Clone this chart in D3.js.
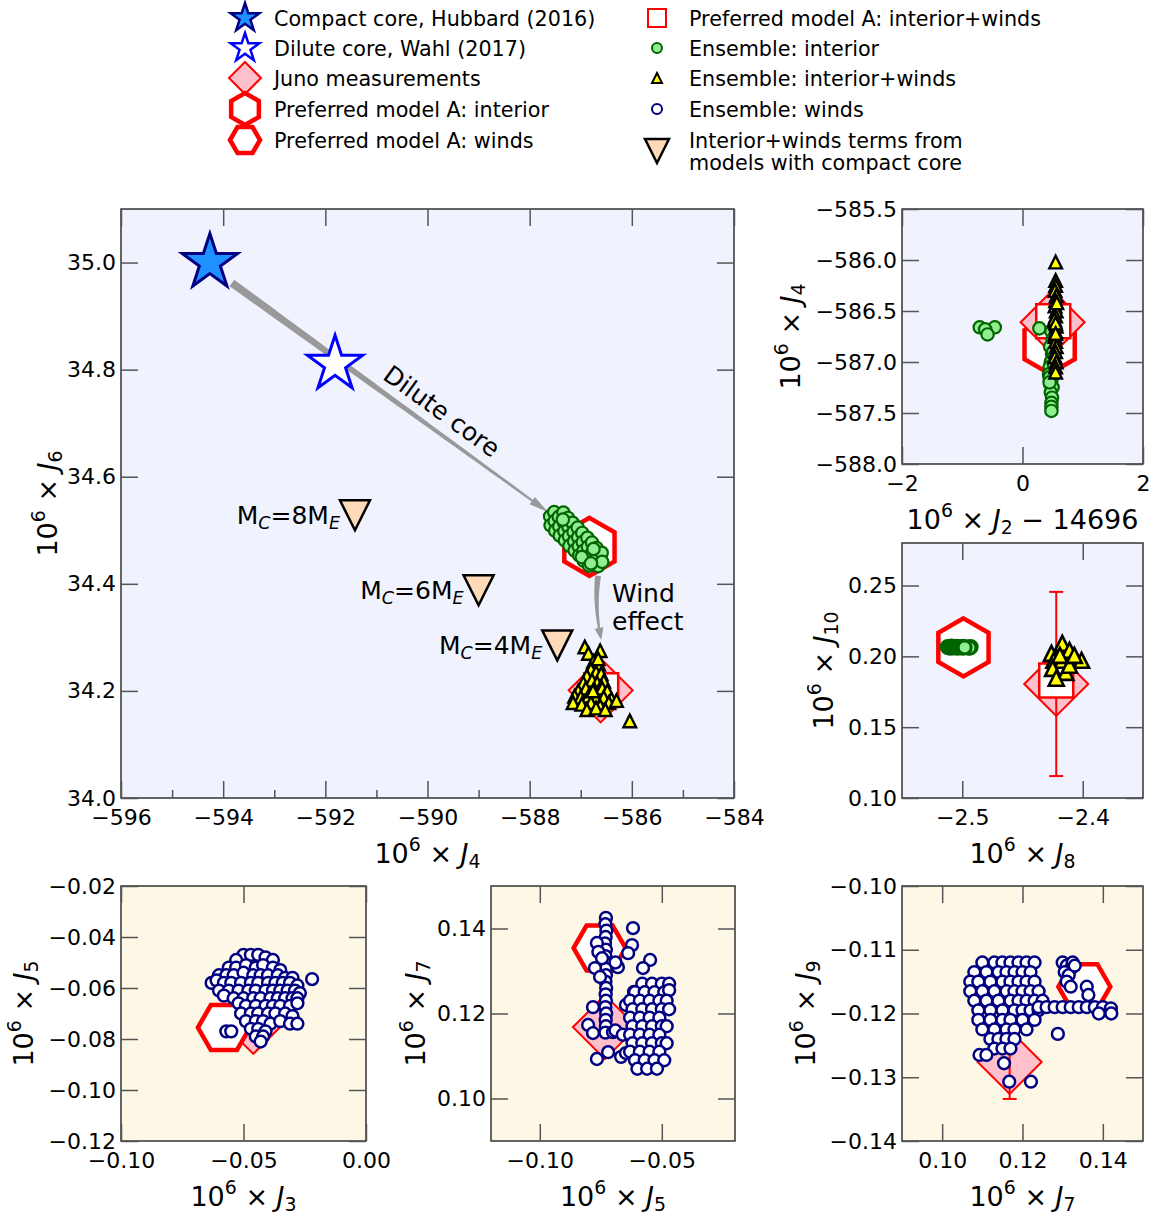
<!DOCTYPE html>
<html><head><meta charset="utf-8">
<script src="https://cdn.jsdelivr.net/npm/d3@7"></script>
<style>body{margin:0;background:#fff} text{font-family:"DejaVu Sans",sans-serif;fill:#000}</style>
</head><body>
<svg id="c" width="1156" height="1215"></svg>
<script>
// ================= DATA =================
const compactCore = [-594.26, 35.0];          // (J4, J6)
const diluteCore  = [-591.81, 34.81];
const compactCoreModels = [                   // interior+winds terms, compact core
  {mc:"8", j4:-591.42, j6:34.528},
  {mc:"6", j4:-589.00, j6:34.388},
  {mc:"4", j4:-587.46, j6:34.285}
];
// Juno measurements
const junoJ2p = 0.50, junoJ3 = -0.046, junoJ4 = -586.61, junoJ5 = -0.0733, junoJ6 = 34.201,
      junoJ7 = 0.1168, junoJ8 = -2.422, junoJ9 = -0.1276, junoJ10 = 0.1805;
const junoErrJ9 = 0.0058, junoErrJ10 = 0.065;
// Preferred model A
const prefInterior = {j2p:0.45, j4:-586.83, j6:34.469, j8:-2.499, j10:0.2063};
const prefWinds    = {j3:-0.058, j5:-0.0755, j7:0.1354, j9:-0.1158};
const prefTotal    = {j2p:0.51, j4:-586.60, j6:34.201, j8:-2.422, j10:0.183};

// Ensemble interior (J4, J6)
const ensInteriorJ4J6 = [[-587.60,34.526],[-587.52,34.534],
[-587.59,34.509],[-587.51,34.517],[-587.43,34.525],[-587.34,34.533],
[-587.50,34.499],[-587.42,34.507],[-587.33,34.515],[-587.25,34.523],
[-587.41,34.490],[-587.32,34.498],[-587.24,34.506],[-587.16,34.514],
[-587.31,34.481],[-587.23,34.489],[-587.14,34.497],[-587.06,34.505],
[-587.22,34.471],[-587.13,34.479],[-587.05,34.487],[-586.97,34.495],
[-587.12,34.462],[-587.04,34.470],[-586.96,34.478],[-586.87,34.486],
[-587.03,34.453],[-586.95,34.461],[-586.86,34.469],[-586.78,34.477],
[-586.94,34.443],[-586.85,34.451],[-586.77,34.459],[-586.69,34.467],
[-586.84,34.434],[-586.76,34.442],[-586.67,34.450],[-586.59,34.458],
[-586.66,34.433],[-586.58,34.441],[-586.98,34.450],[-586.75,34.465],[-587.35,34.520],[-586.80,34.438]];
// Ensemble interior+winds (J4, J6)
const ensTotalJ4J6 = [[-586.92,34.282],[-586.85,34.270],[-586.62,34.275],[-586.75,34.255],[-586.65,34.250],[-586.80,34.240],[-586.70,34.235],[-586.88,34.228],[-586.60,34.232],[-586.95,34.215],[-586.78,34.220],[-586.68,34.215],[-586.55,34.218],[-587.05,34.200],[-586.90,34.205],[-586.72,34.200],[-586.58,34.205],[-586.48,34.200],[-587.12,34.190],[-587.00,34.188],[-586.85,34.190],[-586.70,34.185],[-586.55,34.188],[-586.40,34.185],[-587.15,34.178],[-586.98,34.175],[-586.80,34.178],[-586.62,34.172],[-586.45,34.178],[-586.30,34.182],[-586.88,34.165],[-586.70,34.168],[-586.52,34.165],[-586.76,34.200],[-586.66,34.260],[-586.04,34.144]];
// Ensemble interior (J2-14696, J4)
const ensInteriorJ2J4 = [[-0.71,-586.66],[-0.46,-586.66],[-0.62,-586.68],[-0.58,-586.73],[0.28,-586.67],[0.48,-586.70],[0.50,-586.78],[0.46,-586.85],[0.49,-586.92],[0.47,-587.00],[0.45,-587.05],[0.50,-587.10],[0.44,-587.12],[0.48,-587.18],[0.46,-587.22],[0.50,-587.25],[0.47,-587.30],[0.49,-587.35],[0.48,-587.40],[0.48,-587.44],[0.48,-587.48],[0.45,-587.15],[0.52,-587.02],[0.51,-586.90],[0.45,-587.20]];
// Ensemble interior+winds (J2-14696, J4)
const ensTotalJ2J4 = [[0.55,-586.02],[0.55,-586.20],[0.55,-586.25],[0.54,-586.30],[0.56,-586.35],[0.55,-586.40],[0.54,-586.45],[0.56,-586.50],[0.55,-586.55],[0.54,-586.60],[0.56,-586.65],[0.55,-586.70],[0.54,-586.75],[0.55,-586.80],[0.56,-586.85],[0.55,-586.90],[0.54,-586.95],[0.56,-587.00],[0.55,-587.05],[0.55,-587.10],[0.53,-586.58],[0.57,-586.42],[0.55,-586.62],[0.55,-586.72]];
// Ensemble interior (J8, J10)
const ensInteriorJ8J10 = [[-2.512,0.2066],[-2.510,0.2060],[-2.509,0.2069],[-2.507,0.2063],[-2.505,0.2067],[-2.504,0.2060],[-2.502,0.2066],[-2.500,0.2061],[-2.495,0.2063],[-2.493,0.2066],[-2.494,0.2060],[-2.499,0.2067],[-2.498,0.2063]];
// Ensemble interior+winds (J8, J10)
const ensTotalJ8J10 = [[-2.426,0.2021],[-2.417,0.2092],[-2.411,0.2042],[-2.401,0.1972],[-2.424,0.1972],[-2.417,0.1972],[-2.425,0.1915],[-2.414,0.1887],[-2.411,0.1937],[-2.422,0.1845],[-2.419,0.2007],[-2.407,0.2007]];
// Ensemble winds (J3, J5)
const ensWindsJ3J5 = [[-0.050,-0.047],[-0.047,-0.047],[-0.044,-0.047],[-0.041,-0.048],[-0.038,-0.049],[-0.053,-0.049],
[-0.056,-0.052],[-0.053,-0.052],[-0.049,-0.051],[-0.045,-0.052],[-0.042,-0.051],[-0.038,-0.052],[-0.035,-0.053],
[-0.060,-0.055],[-0.057,-0.055],[-0.054,-0.055],[-0.050,-0.054],[-0.046,-0.055],[-0.043,-0.055],[-0.040,-0.055],[-0.036,-0.055],[-0.033,-0.056],[-0.030,-0.056],
[-0.063,-0.058],[-0.061,-0.057],[-0.058,-0.058],[-0.055,-0.058],[-0.051,-0.058],[-0.047,-0.058],[-0.044,-0.058],[-0.040,-0.058],[-0.037,-0.058],[-0.034,-0.058],[-0.031,-0.058],[-0.028,-0.059],
[-0.060,-0.061],[-0.056,-0.061],[-0.052,-0.061],[-0.048,-0.061],[-0.045,-0.061],[-0.041,-0.061],[-0.038,-0.061],[-0.035,-0.061],[-0.032,-0.061],[-0.029,-0.061],[-0.027,-0.062],
[-0.058,-0.063],[-0.054,-0.064],[-0.050,-0.064],[-0.046,-0.064],[-0.043,-0.064],[-0.039,-0.064],[-0.036,-0.064],[-0.033,-0.064],[-0.030,-0.064],[-0.028,-0.064],
[-0.052,-0.066],[-0.049,-0.067],[-0.045,-0.067],[-0.041,-0.067],[-0.038,-0.067],[-0.035,-0.067],[-0.031,-0.067],[-0.028,-0.066],
[-0.051,-0.070],[-0.047,-0.070],[-0.044,-0.070],[-0.040,-0.070],[-0.037,-0.070],[-0.033,-0.070],[-0.030,-0.071],
[-0.049,-0.073],[-0.045,-0.073],[-0.042,-0.073],[-0.039,-0.074],[-0.035,-0.073],[-0.031,-0.074],[-0.028,-0.074],
[-0.047,-0.076],[-0.044,-0.076],[-0.041,-0.077],[-0.045,-0.079],[-0.042,-0.079],[-0.043,-0.081],
[-0.057,-0.077],[-0.055,-0.077],[-0.022,-0.0565]];
// Ensemble winds (J5, J7)
const ensWindsJ5J7 = [[-0.0729,0.1425],[-0.0731,0.1410],[-0.0727,0.1395],[-0.0730,0.1380],[-0.0733,0.1365],[-0.0729,0.1350],[-0.0731,0.1335],[-0.0728,0.1320],[-0.0730,0.1305],[-0.0729,0.1290],[-0.0731,0.1275],[-0.0728,0.1260],[-0.0730,0.1245],[-0.0729,0.1230],[-0.0731,0.1215],[-0.0728,0.1200],[-0.0730,0.1185],[-0.0729,0.1170],[-0.0731,0.1155],
[-0.0766,0.1366],[-0.0760,0.1345],[-0.0774,0.1307],[-0.0753,0.1286],[-0.0745,0.1330],
[-0.0618,0.1401],[-0.0622,0.1361],[-0.0638,0.1342],[-0.0548,0.1326],[-0.0577,0.1307],[-0.0680,0.1309],[-0.0690,0.1320],[-0.0782,0.1215],[-0.0802,0.1173],[-0.0782,0.1154],[-0.0766,0.1093],[-0.0720,0.1109],[-0.0700,0.1156],[-0.0667,0.1098],[-0.0647,0.1107],[-0.0614,0.1251],[-0.0647,0.1220],[-0.0690,0.1160],[-0.0660,0.1150],
[-0.058,0.127],[-0.054,0.127],[-0.050,0.127],[-0.047,0.127],
[-0.061,0.125],[-0.057,0.125],[-0.053,0.125],[-0.049,0.125],[-0.047,0.1255],
[-0.063,0.123],[-0.059,0.123],[-0.055,0.123],[-0.051,0.123],[-0.048,0.123],
[-0.062,0.121],[-0.058,0.121],[-0.054,0.121],[-0.050,0.121],[-0.047,0.121],
[-0.063,0.119],[-0.059,0.119],[-0.055,0.119],[-0.051,0.119],
[-0.062,0.117],[-0.058,0.117],[-0.054,0.117],[-0.050,0.117],[-0.048,0.117],
[-0.063,0.115],[-0.059,0.115],[-0.055,0.115],[-0.051,0.115],
[-0.062,0.113],[-0.058,0.113],[-0.054,0.113],[-0.050,0.113],[-0.048,0.113],
[-0.063,0.111],[-0.059,0.111],[-0.055,0.111],[-0.051,0.111],
[-0.061,0.109],[-0.057,0.109],[-0.053,0.109],[-0.049,0.109],
[-0.060,0.107],[-0.056,0.107],[-0.052,0.107]];
// Ensemble winds (J7, J9)
const ensWindsJ7J9 = [[0.110,-0.112],[0.113,-0.112],[0.115,-0.112],[0.117,-0.112],[0.119,-0.112],[0.121,-0.112],[0.123,-0.112],
[0.108,-0.1135],[0.111,-0.1135],[0.114,-0.1135],[0.116,-0.1135],[0.118,-0.1135],[0.120,-0.1135],[0.122,-0.1135],
[0.107,-0.115],[0.109,-0.115],[0.112,-0.115],[0.115,-0.115],[0.117,-0.115],[0.119,-0.115],[0.121,-0.115],[0.123,-0.115],
[0.107,-0.1165],[0.110,-0.1165],[0.113,-0.1165],[0.116,-0.1165],[0.118,-0.1165],[0.120,-0.1165],[0.122,-0.1165],[0.124,-0.1165],
[0.108,-0.118],[0.111,-0.118],[0.114,-0.118],[0.117,-0.118],[0.119,-0.118],[0.121,-0.118],[0.123,-0.118],[0.125,-0.118],
[0.109,-0.1195],[0.112,-0.1195],[0.115,-0.1195],[0.118,-0.1195],[0.120,-0.1195],[0.122,-0.1195],[0.124,-0.1195],
[0.109,-0.121],[0.112,-0.121],[0.115,-0.121],[0.117,-0.121],[0.120,-0.121],[0.123,-0.121],
[0.110,-0.1225],[0.113,-0.1225],[0.116,-0.1225],[0.118,-0.1225],[0.121,-0.1225],
[0.112,-0.124],[0.114,-0.124],[0.116,-0.124],[0.118,-0.124],
[0.113,-0.1255],[0.115,-0.1255],[0.117,-0.1255],
[0.124,-0.119],[0.126,-0.119],[0.128,-0.119],[0.130,-0.119],[0.132,-0.119],[0.134,-0.119],[0.136,-0.119],[0.138,-0.119],[0.140,-0.119],[0.142,-0.1192],[0.1421,-0.120],[0.139,-0.120],
[0.1300,-0.1120],[0.1310,-0.1125],[0.1320,-0.1130],[0.1305,-0.1135],[0.1325,-0.1120],[0.1315,-0.1140],[0.1310,-0.1150],[0.1320,-0.1158],[0.1360,-0.1158],[0.1364,-0.1171],[0.1330,-0.1125],
[0.1093,-0.1265],[0.1110,-0.1265],[0.1154,-0.1278],[0.1167,-0.1307],[0.1221,-0.1307],[0.1288,-0.1232]];

// tick values
const mainXTicks = [-596,-594,-592,-590,-588,-586,-584];
const mainXMinor = [-595,-593,-591,-589,-587,-585];
const mainYTicks = [34.0,34.2,34.4,34.6,34.8,35.0];
const trXTicks = [-2,0,2];
const trYTicks = [-588.0,-587.5,-587.0,-586.5,-586.0,-585.5];
const mrXTicks = [-2.5,-2.4];
const mrYTicks = [0.10,0.15,0.20,0.25];
const blXTicks = [-0.10,-0.05,0.00];
const blYTicks = [-0.12,-0.10,-0.08,-0.06,-0.04,-0.02];
const bmXTicks = [-0.10,-0.05];
const bmYTicks = [0.10,0.12,0.14];
const brXTicks = [0.10,0.12,0.14];
const brYTicks = [-0.14,-0.13,-0.12,-0.11,-0.10];

// ================= DRAWING =================
const svg = d3.select("#c");
const BLUEBG = "#f0f3fe", CREAMBG = "#fdf8e5";
const TICKFS = 22, LABFS = 27;

function starPath(R){const p=[];for(let i=0;i<10;i++){const a=-Math.PI/2+i*Math.PI/5;const r=i%2?R*0.381966:R;p.push([r*Math.cos(a),r*Math.sin(a)]);}return "M"+p.map(d=>d.map(v=>v.toFixed(2)).join(",")).join("L")+"Z";}
function hexPath(R,pointy){const p=[];for(let i=0;i<6;i++){const a=(pointy?-90:0)*Math.PI/180+i*Math.PI/3;p.push([R*Math.cos(a),R*Math.sin(a)]);}return "M"+p.map(d=>d.map(v=>v.toFixed(2)).join(",")).join("L")+"Z";}
function diamondPath(h){return `M0,${-h}L${h},0L0,${h}L${-h},0Z`;}
function triPath(h,up){return up?`M0,${-h}L${h},${h}L${-h},${h}Z`:`M0,${h}L${h},${-h}L${-h},${-h}Z`;}
function squarePath(s){return `M${-s/2},${-s/2}h${s}v${s}h${-s}Z`;}

function mark(g,x,y,d,fill,stroke,sw){
  return g.append("path").attr("d",d).attr("transform",`translate(${x},${y})`)
    .attr("fill",fill).attr("stroke",stroke).attr("stroke-width",sw).attr("stroke-linejoin","miter");
}
function mathText(sel,parts,fs){
  let cur=0;
  parts.forEach(([s,type])=>{
    const t=sel.append("tspan").text(s);
    let off=0;
    if(type.includes("sup")){off=-0.44*fs;t.attr("font-size",fs*0.7);}
    if(type.includes("sub")){off=0.2*fs;t.attr("font-size",fs*0.7);}
    if(type.includes("it")) t.attr("font-style","italic");
    t.attr("dy",off-cur); cur=off;
  });
}
const lab = (sub)=>[["10",""],["6","sup"],[" × ",""],["J","it"],[sub,"sub"]];

let clipN=0;
function panel(p){
  const x=d3.scaleLinear().domain(p.xd).range([p.x,p.x+p.w]);
  const y=d3.scaleLinear().domain(p.yd).range([p.y+p.h,p.y]);
  const g=svg.append("g");
  g.append("rect").attr("x",p.x).attr("y",p.y).attr("width",p.w).attr("height",p.h).attr("fill",p.bg);
  const id="clip"+(clipN++);
  svg.append("clipPath").attr("id",id).append("rect").attr("x",p.x).attr("y",p.y).attr("width",p.w).attr("height",p.h);
  const content=g.append("g").attr("clip-path",`url(#${id})`);
  const axes=g.append("g");
  axes.append("rect").attr("x",p.x).attr("y",p.y).attr("width",p.w).attr("height",p.h)
    .attr("fill","none").attr("stroke","#333").attr("stroke-width",1.5);
  const TL=17;
  const styleAxis=(a)=>{a.select(".domain").remove();a.selectAll(".tick line").attr("stroke","#555").attr("stroke-width",1.5);
    a.selectAll(".tick text").attr("font-size",TICKFS).attr("font-family","DejaVu Sans").attr("fill","#000");};
  axes.append("g").attr("transform",`translate(0,${p.y+p.h})`)
    .call(d3.axisBottom(x).tickValues(p.xt).tickFormat(d3.format(p.xf)).tickSizeInner(-TL).tickSizeOuter(0).tickPadding(11)).call(styleAxis);
  axes.append("g").attr("transform",`translate(0,${p.y})`)
    .call(d3.axisTop(x).tickValues(p.xt).tickFormat("").tickSizeInner(-TL).tickSizeOuter(0)).call(styleAxis);
  axes.append("g").attr("transform",`translate(${p.x},0)`)
    .call(d3.axisLeft(y).tickValues(p.yt).tickFormat(d3.format(p.yf)).tickSizeInner(-TL).tickSizeOuter(0).tickPadding(5)).call(styleAxis);
  axes.append("g").attr("transform",`translate(${p.x+p.w},0)`)
    .call(d3.axisRight(y).tickValues(p.yt).tickFormat("").tickSizeInner(-TL).tickSizeOuter(0)).call(styleAxis);
  if(p.xminor){
    axes.append("g").attr("transform",`translate(0,${p.y+p.h})`)
      .call(d3.axisBottom(x).tickValues(p.xminor).tickFormat("").tickSizeInner(-8).tickSizeOuter(0)).call(styleAxis);
  }
  const xl=svg.append("text").attr("x",p.x+p.w/2).attr("y",p.y+p.h+65).attr("text-anchor","middle").attr("font-size",LABFS);
  mathText(xl,p.xlab,LABFS);
  const yl=svg.append("text").attr("transform",`translate(${p.x-p.ylOff},${p.y+p.h/2}) rotate(-90)`).attr("text-anchor","middle").attr("font-size",LABFS);
  mathText(yl,p.ylab,LABFS);
  return {x,y,g:content};
}

function taper(g,pts,w0,w1,headL,headW,color){
  const n=pts.length;
  const L=[0];for(let i=1;i<n;i++)L.push(L[i-1]+Math.hypot(pts[i][0]-pts[i-1][0],pts[i][1]-pts[i-1][1]));
  const tot=L[n-1];
  const left=[],right=[];
  let lastI=0;
  for(let i=0;i<n;i++){
    if(L[i]>tot-headL) break;
    lastI=i;
    const a=pts[Math.max(0,i-1)],b=pts[Math.min(n-1,i+1)];
    let dx=b[0]-a[0],dy=b[1]-a[1];const d=Math.hypot(dx,dy);dx/=d;dy/=d;
    const w=w0+(w1-w0)*L[i]/(tot-headL);
    left.push([pts[i][0]-dy*w/2,pts[i][1]+dx*w/2]);right.push([pts[i][0]+dy*w/2,pts[i][1]-dx*w/2]);
  }
  const base=pts[lastI],tip=pts[n-1];
  let dx=tip[0]-base[0],dy=tip[1]-base[1];const d=Math.hypot(dx,dy);dx/=d;dy/=d;
  const poly=left.concat([[base[0]-dy*headW/2,base[1]+dx*headW/2],tip,[base[0]+dy*headW/2,base[1]-dx*headW/2]]).concat(right.reverse());
  g.append("path").attr("d","M"+poly.map(q=>q.join(",")).join("L")+"Z").attr("fill",color).attr("stroke","none");
}

// ---------- MAIN PANEL ----------
const M = panel({x:121,y:209,w:613,h:589,xd:[-596,-584],yd:[34.0,35.1],xt:mainXTicks,yt:mainYTicks,xminor:mainXMinor,
  xf:"d",yf:".1f",bg:BLUEBG,xlab:lab("4"),ylab:lab("6"),ylOff:64});
{
  const {x,y,g}=M;
  const s=[x(-593.83),y(34.962)], e=[x(-587.64),y(34.534)];
  const pts=d3.range(0,41).map(i=>[s[0]+(e[0]-s[0])*i/40,s[1]+(e[1]-s[1])*i/40]);
  taper(g,pts,8,2.2,12,9,"#999");
  const a0=[x(-586.66),y(34.415)], a1=[x(-586.60),y(34.295)], c=[x(-586.74),y(34.36)];
  const qp=d3.range(0,41).map(i=>{const t=i/40;return [(1-t)*(1-t)*a0[0]+2*t*(1-t)*c[0]+t*t*a1[0],(1-t)*(1-t)*a0[1]+2*t*(1-t)*c[1]+t*t*a1[1]];});
  taper(g,qp,6,2.2,11,9,"#999");
  mark(g,x(compactCore[0]),y(compactCore[1]),starPath(29),"#1e90ff","#000080",3);
  mark(g,x(diluteCore[0]),y(diluteCore[1]),starPath(29),"#ffffff","#0000ff",3);
  compactCoreModels.forEach(d=>{
    mark(g,x(d.j4),y(d.j6),triPath(15,false),"#ffdab9","#000",2.5);
    const t=g.append("text").attr("x",x(d.j4)-15).attr("y",y(d.j6)+9).attr("text-anchor","end").attr("font-size",25);
    mathText(t,[["M",""],["C","sub it"],["="+d.mc+"M",""],["E","sub it"]],25);
  });
  g.append("text").attr("transform",`translate(442,411) rotate(36)`).attr("text-anchor","middle").attr("y",9).attr("font-size",25).text("Dilute core");
  g.append("text").attr("x",612).attr("y",602).attr("font-size",25).text("Wind");
  g.append("text").attr("x",612).attr("y",630).attr("font-size",25).text("effect");
  mark(g,x(prefInterior.j4),y(prefInterior.j6),hexPath(29,true),"#fff","#ff0000",4.5);
  mark(g,x(junoJ4),y(junoJ6),diamondPath(32),"#ffc0cb","#ff0000",2);
  mark(g,x(prefTotal.j4),y(prefTotal.j6),squarePath(34),"#fff","#ff0000",2.5);
  ensInteriorJ4J6.forEach(d=>g.append("circle").attr("cx",x(d[0])).attr("cy",y(d[1])).attr("r",6.2).attr("fill","#90ee90").attr("stroke","#006400").attr("stroke-width",2.2));
  ensTotalJ4J6.forEach(d=>mark(g,x(d[0]),y(d[1]),triPath(6.3,true),"#ffff00","#000",2.4));
}

// ---------- TOP RIGHT ----------
const TR = panel({x:902,y:209,w:241,h:255,xd:[-2,2],yd:[-588,-585.5],xt:trXTicks,yt:trYTicks,xf:"d",yf:".1f",bg:BLUEBG,
  xlab:[["10",""],["6","sup"],[" × ",""],["J","it"],["2","sub"],[" − 14696",""]],ylab:lab("4"),ylOff:102});
{
  const {x,y,g}=TR;
  mark(g,x(prefInterior.j2p),y(prefInterior.j4),hexPath(29,true),"#fff","#ff0000",4.5);
  mark(g,x(junoJ2p),y(junoJ4),diamondPath(32),"#ffc0cb","#ff0000",2);
  mark(g,x(prefTotal.j2p),y(prefTotal.j4),squarePath(34),"#fff","#ff0000",2.5);
  ensInteriorJ2J4.forEach(d=>g.append("circle").attr("cx",x(d[0])).attr("cy",y(d[1])).attr("r",6.2).attr("fill","#90ee90").attr("stroke","#006400").attr("stroke-width",2.2));
  ensTotalJ2J4.forEach(d=>mark(g,x(d[0]),y(d[1]),triPath(6.3,true),"#ffff00","#000",2.4));
}

// ---------- MIDDLE RIGHT ----------
const MR = panel({x:902,y:543,w:241,h:255,xd:[-2.55,-2.35],yd:[0.10,0.28],xt:mrXTicks,yt:mrYTicks,xf:".1f",yf:".2f",bg:BLUEBG,
  xlab:lab("8"),ylab:lab("10"),ylOff:69});
{
  const {x,y,g}=MR;
  mark(g,x(prefInterior.j8),y(prefInterior.j10),hexPath(29,true),"#fff","#ff0000",4.5);
  ensInteriorJ8J10.forEach(d=>g.append("circle").attr("cx",x(d[0])).attr("cy",y(d[1])).attr("r",6.5).attr("fill","#90ee90").attr("stroke","#006400").attr("stroke-width",3));
  mark(g,x(junoJ8),y(junoJ10),diamondPath(32),"#ffc0cb","#ff0000",2);
  const ex=x(junoJ8);
  g.append("line").attr("x1",ex).attr("x2",ex).attr("y1",y(junoJ10-junoErrJ10)).attr("y2",y(junoJ10+junoErrJ10)).attr("stroke","#ff0000").attr("stroke-width",2);
  [junoJ10-junoErrJ10,junoJ10+junoErrJ10].forEach(v=>g.append("line").attr("x1",ex-7).attr("x2",ex+7).attr("y1",y(v)).attr("y2",y(v)).attr("stroke","#ff0000").attr("stroke-width",2));
  mark(g,x(prefTotal.j8),y(prefTotal.j10),squarePath(34),"#fff","#ff0000",2.5);
  ensTotalJ8J10.forEach(d=>mark(g,x(d[0]),y(d[1]),triPath(7.5,true),"#ffff00","#000",2.6));
}

// ---------- BOTTOM ----------
const windCircle=(g,cx,cy)=>g.append("circle").attr("cx",cx).attr("cy",cy).attr("r",5.9).attr("fill","#fff").attr("stroke","#000080").attr("stroke-width",2.5);
const BL = panel({x:121,y:886,w:245,h:255,xd:[-0.10,0.00],yd:[-0.12,-0.02],xt:blXTicks,yt:blYTicks,xf:".2f",yf:".2f",bg:CREAMBG,
  xlab:lab("3"),ylab:lab("5"),ylOff:88});
{
  const {x,y,g}=BL;
  mark(g,x(junoJ3),y(junoJ5),diamondPath(32),"#ffc0cb","#ff0000",2);
  mark(g,x(prefWinds.j3),y(prefWinds.j5),hexPath(26,false),"#fff","#ff0000",4.5);
  ensWindsJ3J5.forEach(d=>windCircle(g,x(d[0]),y(d[1])));
}
const BM = panel({x:491,y:886,w:244,h:255,xd:[-0.12,-0.02],yd:[0.09,0.15],xt:bmXTicks,yt:bmYTicks,xf:".2f",yf:".2f",bg:CREAMBG,
  xlab:lab("5"),ylab:lab("7"),ylOff:66});
{
  const {x,y,g}=BM;
  mark(g,x(junoJ5),y(junoJ7),diamondPath(32),"#ffc0cb","#ff0000",2);
  mark(g,x(prefWinds.j5),y(prefWinds.j7),hexPath(26,false),"#fff","#ff0000",4.5);
  ensWindsJ5J7.forEach(d=>windCircle(g,x(d[0]),y(d[1])));
}
const BR = panel({x:902,y:886,w:241,h:255,xd:[0.09,0.15],yd:[-0.14,-0.10],xt:brXTicks,yt:brYTicks,xf:".2f",yf:".2f",bg:CREAMBG,
  xlab:lab("7"),ylab:lab("9"),ylOff:87});
{
  const {x,y,g}=BR;
  mark(g,x(junoJ7),y(junoJ9),diamondPath(32),"#ffc0cb","#ff0000",2);
  const ex=x(junoJ7);
  g.append("line").attr("x1",ex).attr("x2",ex).attr("y1",y(junoJ9-junoErrJ9)).attr("y2",y(junoJ9+junoErrJ9)).attr("stroke","#ff0000").attr("stroke-width",2);
  [junoJ9-junoErrJ9,junoJ9+junoErrJ9].forEach(v=>g.append("line").attr("x1",ex-7).attr("x2",ex+7).attr("y1",y(v)).attr("y2",y(v)).attr("stroke","#ff0000").attr("stroke-width",2));
  mark(g,x(prefWinds.j7),y(prefWinds.j9),hexPath(26,false),"#fff","#ff0000",4.5);
  ensWindsJ7J9.forEach(d=>windCircle(g,x(d[0]),y(d[1])));
}

// ---------- LEGEND ----------
{
  const L=svg.append("g");
  const LFS=20.7;
  const lt=(x,y,s)=>L.append("text").attr("x",x).attr("y",y+7.5).attr("font-size",LFS).text(s);
  const lx=245, tx=274, rx=657, rtx=689;
  mark(L,lx,18,starPath(15),"#1e90ff","#000080",2.5); lt(tx,18,"Compact core, Hubbard (2016)");
  mark(L,lx,48,starPath(15),"#fff","#0000ff",2.5); lt(tx,48,"Dilute core, Wahl (2017)");
  mark(L,lx,78,diamondPath(16),"#ffc0cb","#ff0000",2); lt(tx,78,"Juno measurements");
  mark(L,lx,109,hexPath(16,true),"#fff","#ff0000",4.5); lt(tx,109,"Preferred model A: interior");
  mark(L,lx,140,hexPath(15,false),"#fff","#ff0000",4.5); lt(tx,140,"Preferred model A: winds");
  mark(L,rx,18,squarePath(18),"#fff","#ff0000",2); lt(rtx,18,"Preferred model A: interior+winds");
  L.append("circle").attr("cx",rx).attr("cy",48).attr("r",5).attr("fill","#90ee90").attr("stroke","#006400").attr("stroke-width",2); lt(rtx,48,"Ensemble: interior");
  mark(L,rx,78,triPath(5,true),"#ffff00","#000",2); lt(rtx,78,"Ensemble: interior+winds");
  L.append("circle").attr("cx",rx).attr("cy",109).attr("r",5).attr("fill","#fff").attr("stroke","#000080").attr("stroke-width",2); lt(rtx,109,"Ensemble: winds");
  mark(L,rx,151,triPath(12,false),"#ffdab9","#000",2.5); lt(rtx,140,"Interior+winds terms from"); lt(rtx,162,"models with compact core");
}
</script>
</body></html>
